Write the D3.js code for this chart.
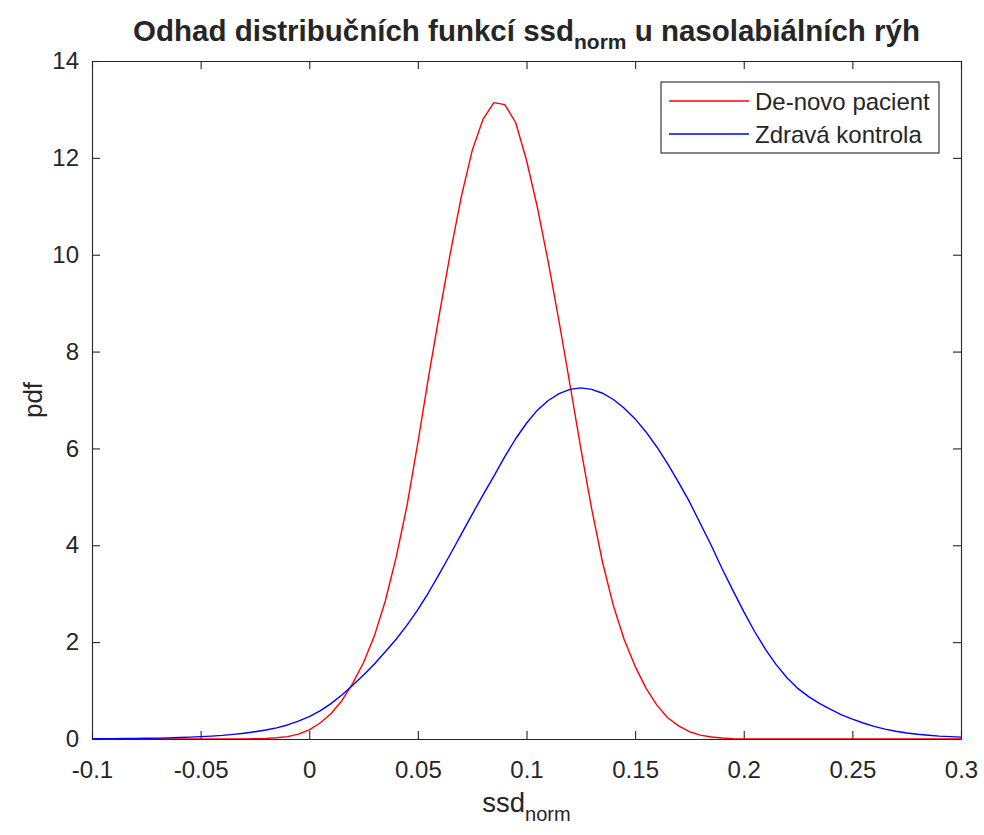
<!DOCTYPE html>
<html>
<head>
<meta charset="utf-8">
<title>Odhad distribučních funkcí</title>
<script src="https://cdn.jsdelivr.net/npm/d3@7"></script>
<style>
    body { margin: 0; background: #fff; }
    svg text { font-family: "Liberation Sans", Arial, Helvetica, sans-serif; fill: #262626; }
</style>
</head>
<body>
<svg id="chart" width="984" height="835"></svg>
<script>
/* ============================================
   DATA
   ============================================ */

// osa x: ssd_norm
const xValues = [
    -0.100, -0.095, -0.090, -0.085, -0.080, -0.075, -0.070, -0.065, -0.060, -0.055,
    -0.050, -0.045, -0.040, -0.035, -0.030, -0.025, -0.020, -0.015, -0.010, -0.005,
     0.000,  0.005,  0.010,  0.015,  0.020,  0.025,  0.030,  0.035,  0.040,  0.045,
     0.050,  0.055,  0.060,  0.065,  0.070,  0.075,  0.080,  0.085,  0.090,  0.095,
     0.100,  0.105,  0.110,  0.115,  0.120,  0.125,  0.130,  0.135,  0.140,  0.145,
     0.150,  0.155,  0.160,  0.165,  0.170,  0.175,  0.180,  0.185,  0.190,  0.195,
     0.200,  0.205,  0.210,  0.215,  0.220,  0.225,  0.230,  0.235,  0.240,  0.245,
     0.250,  0.255,  0.260,  0.265,  0.270,  0.275,  0.280,  0.285,  0.290,  0.295,
     0.300
];

// pdf - De-novo pacient (červená)
const pacientPdf = [
    0, 0, 0, 0, 0, 0, 0, 0, 0, 0,
    0, 0, 0, 0.001, 0.002, 0.005, 0.012, 0.025, 0.05, 0.10,
    0.19, 0.33, 0.52, 0.79, 1.15, 1.58, 2.13, 2.85, 3.75, 4.82,
    6.12, 7.5, 8.8, 10.05, 11.2, 12.15, 12.8, 13.14, 13.1, 12.73,
    11.95, 10.98, 9.85, 8.62, 7.32, 6.0, 4.75, 3.65, 2.75, 2.05,
    1.5, 1.05, 0.70, 0.44, 0.27, 0.15, 0.08, 0.04, 0.02, 0.008,
    0.003, 0.001, 0, 0, 0, 0, 0, 0, 0, 0,
    0, 0, 0, 0, 0, 0, 0, 0, 0, 0,
    0
];

// pdf - Zdravá kontrola (modrá)
const kontrolaPdf = [
    0.004, 0.005, 0.007, 0.009, 0.012, 0.015, 0.019, 0.024, 0.03, 0.038,
    0.048, 0.06, 0.075, 0.095, 0.12, 0.15, 0.185, 0.23, 0.29, 0.37,
    0.46, 0.58, 0.73, 0.91, 1.11, 1.32, 1.55, 1.8, 2.06, 2.35,
    2.67, 3.03, 3.42, 3.82, 4.23, 4.64, 5.04, 5.43, 5.83, 6.2,
    6.52, 6.79, 6.99, 7.13, 7.22, 7.25, 7.22, 7.14, 7.01, 6.83,
    6.61, 6.34, 6.03, 5.68, 5.3, 4.9, 4.45, 4.0, 3.52, 3.07,
    2.63, 2.22, 1.85, 1.53, 1.26, 1.04, 0.87, 0.73, 0.61, 0.5,
    0.41, 0.33, 0.26, 0.205, 0.16, 0.125, 0.097, 0.077, 0.06, 0.048,
    0.038
];

const seriesNames = ['De-novo pacient', 'Zdravá kontrola'];
const seriesColors = ['#ff0000', '#0000ff'];

const xTicks = [-0.1, -0.05, 0, 0.05, 0.1, 0.15, 0.2, 0.25, 0.3];
const xTickLabels = ['-0.1', '-0.05', '0', '0.05', '0.1', '0.15', '0.2', '0.25', '0.3'];
const yTicks = [0, 2, 4, 6, 8, 10, 12, 14];
const yTickLabels = ['0', '2', '4', '6', '8', '10', '12', '14'];

/* ============================================
   LAYOUT
   ============================================ */
const plot = { left: 92, right: 961, top: 61, bottom: 739 };
const axisColor = '#262626';
const fontFamily = '"Liberation Sans", Arial, Helvetica, sans-serif';

const svg = d3.select('#chart');

const x = d3.scaleLinear().domain([-0.1, 0.3]).range([plot.left, plot.right]);
const y = d3.scaleLinear().domain([0, 14]).range([plot.bottom, plot.top]);

// Clip pro křivky
svg.append('defs').append('clipPath').attr('id', 'plot-clip')
    .append('rect')
    .attr('x', plot.left).attr('y', plot.top)
    .attr('width', plot.right - plot.left).attr('height', plot.bottom - plot.top);

// Osy - ticky dovnitř, zrcadlené nahoře a vpravo (styl MATLAB)
function styleAxis(g) {
    g.attr('color', axisColor)
        .attr('font-family', fontFamily)
        .attr('font-size', 24);
    g.select('.domain').attr('stroke-width', 1.1);
    g.selectAll('.tick line').attr('stroke-width', 1.1);
}

svg.append('g')
    .attr('transform', `translate(0,${plot.bottom})`)
    .call(d3.axisBottom(x).tickValues(xTicks)
        .tickFormat((d, i) => xTickLabels[i])
        .tickSizeInner(-8).tickSizeOuter(0).tickPadding(22))
    .call(styleAxis);

svg.append('g')
    .attr('transform', `translate(0,${plot.top})`)
    .call(d3.axisTop(x).tickValues(xTicks).tickFormat('')
        .tickSizeInner(-8).tickSizeOuter(0))
    .call(styleAxis);

svg.append('g')
    .attr('transform', `translate(${plot.left},0)`)
    .call(d3.axisLeft(y).tickValues(yTicks)
        .tickFormat((d, i) => yTickLabels[i])
        .tickSizeInner(-8).tickSizeOuter(0).tickPadding(13))
    .call(styleAxis);

svg.append('g')
    .attr('transform', `translate(${plot.right},0)`)
    .call(d3.axisRight(y).tickValues(yTicks).tickFormat('')
        .tickSizeInner(-8).tickSizeOuter(0))
    .call(styleAxis);

// Křivky
const line = d3.line()
    .x((d, i) => x(xValues[i]))
    .y(d => y(d));

const curves = svg.append('g').attr('clip-path', 'url(#plot-clip)');
[pacientPdf, kontrolaPdf].forEach((values, k) => {
    curves.append('path')
        .datum(values)
        .attr('fill', 'none')
        .attr('stroke', seriesColors[k])
        .attr('stroke-width', 1.4)
        .attr('stroke-linejoin', 'round')
        .attr('d', line);
});

// Titulek
const title = svg.append('text')
    .attr('x', (plot.left + plot.right) / 2)
    .attr('y', 41)
    .attr('text-anchor', 'middle')
    .attr('font-size', 29.5)
    .attr('font-weight', 'bold')
    .attr('fill', '#000');
title.append('tspan').text('Odhad distribučních funkcí ssd');
title.append('tspan').attr('font-size', 21).attr('dy', 8).text('norm');
title.append('tspan').attr('dy', -8).text(' u nasolabiálních rýh');

// Popisky os
const xLabel = svg.append('text')
    .attr('x', (plot.left + plot.right) / 2)
    .attr('y', 812)
    .attr('text-anchor', 'middle')
    .attr('font-size', 27.5);
xLabel.append('tspan').text('ssd');
xLabel.append('tspan').attr('font-size', 20).attr('dy', 9).text('norm');

svg.append('text')
    .attr('transform', `translate(42,${(plot.top + plot.bottom) / 2}) rotate(-90)`)
    .attr('text-anchor', 'middle')
    .attr('font-size', 26)
    .text('pdf');

// Legenda
const legend = svg.append('g');
legend.append('rect')
    .attr('x', 661).attr('y', 82)
    .attr('width', 278).attr('height', 71)
    .attr('fill', '#fff')
    .attr('stroke', axisColor)
    .attr('stroke-width', 1.1);

seriesNames.forEach((name, k) => {
    const ly = 101 + k * 33;
    legend.append('line')
        .attr('x1', 669).attr('x2', 749)
        .attr('y1', ly).attr('y2', ly)
        .attr('stroke', seriesColors[k])
        .attr('stroke-width', 1.4);
    legend.append('text')
        .attr('x', 755).attr('y', ly + 8.5)
        .attr('font-size', 24)
        .text(name);
});
</script>
</body>
</html>
